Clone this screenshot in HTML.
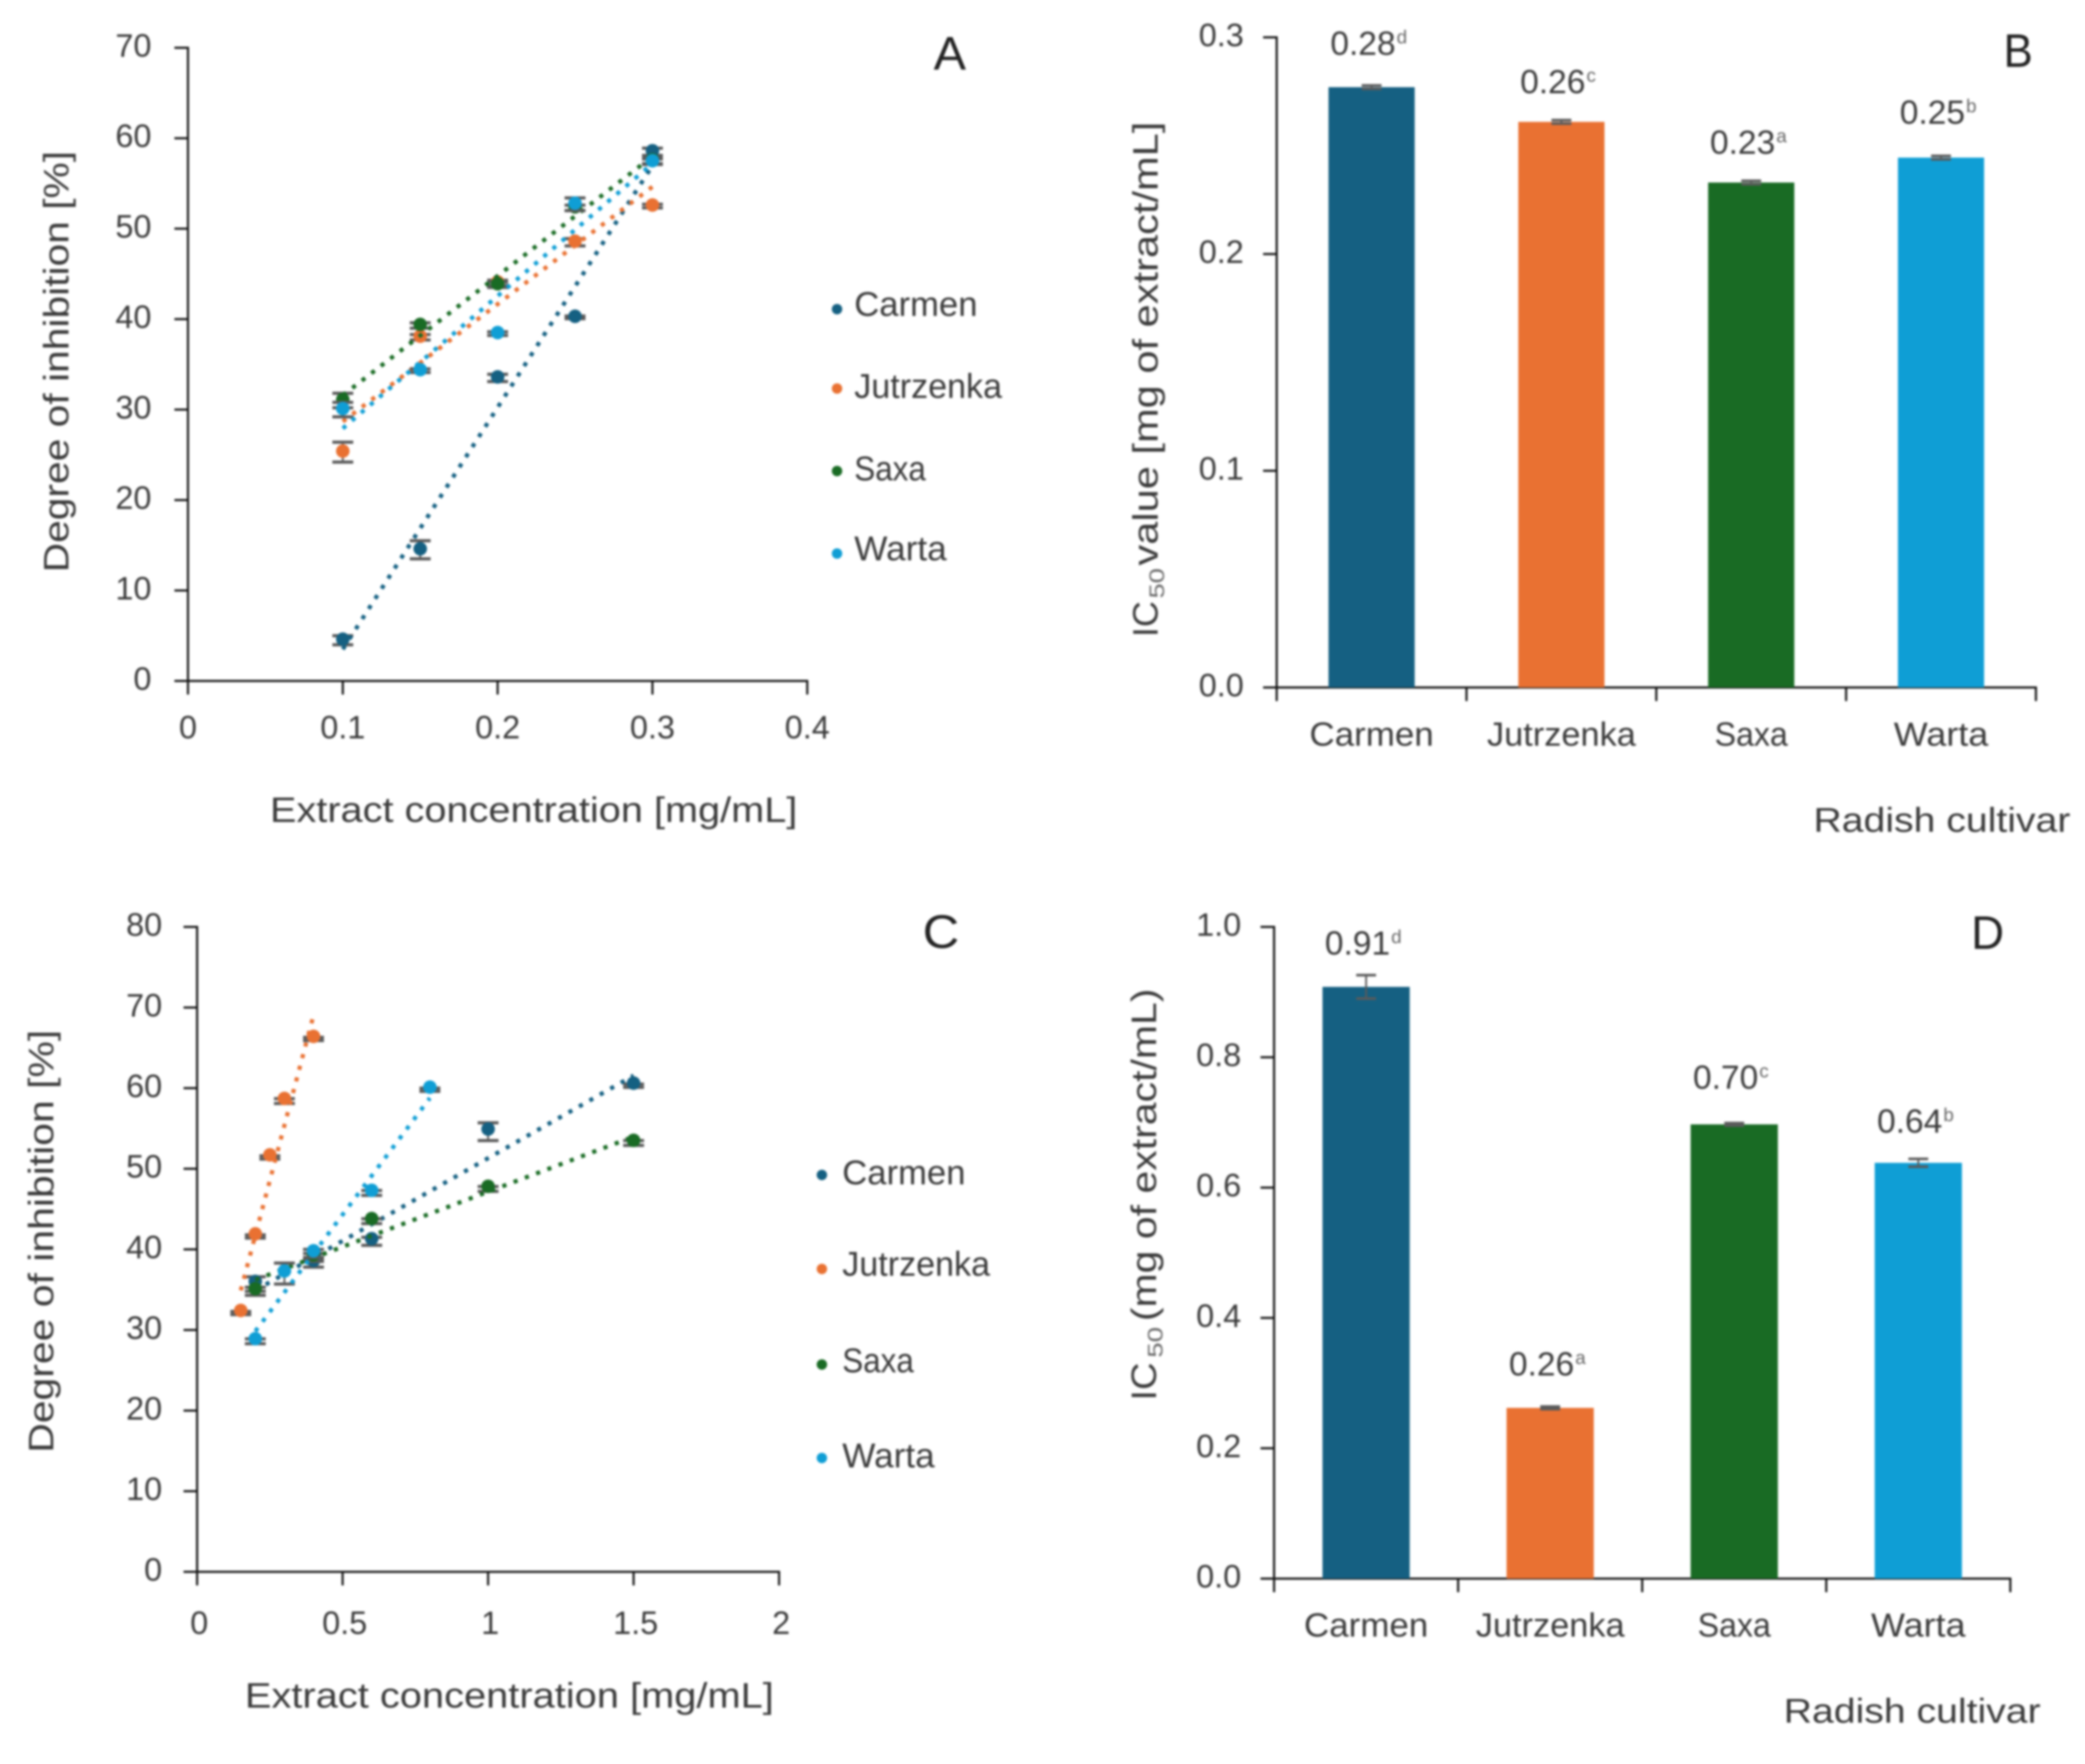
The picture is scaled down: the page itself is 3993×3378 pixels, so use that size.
<!DOCTYPE html>
<html lang="en">
<head>
<meta charset="utf-8">
<title>Radish cultivar inhibition and IC50 charts</title>
<style>
html,body{margin:0;padding:0;background:#fff;}
svg{display:block;filter:blur(2px);}
text{font-family:"Liberation Sans",sans-serif;fill:#3a3a3a;}
</style>
</head>
<body>
<svg id="chart" xmlns="http://www.w3.org/2000/svg" width="3993" height="3378" viewBox="0 0 3993 3378">
<rect width="3993" height="3378" fill="#ffffff"/>
</svg>
<script>
// ---------- shared ----------
const cultivars = ['Carmen', 'Jutrzenka', 'Saxa', 'Warta'];
const cultivarColors = ['#156082', '#E97132', '#196B24', '#0F9ED5'];

// ---------- panel A data ----------
const aXTicks = [0, 0.1, 0.2, 0.3, 0.4];
const aXTickLabels = ['0', '0.1', '0.2', '0.3', '0.4'];
const aYTicks = [0, 10, 20, 30, 40, 50, 60, 70];
const aConc = [0.1, 0.15, 0.2, 0.25, 0.3];
const aCarmen = [4.5, 14.5, 33.5, 40.2, 58.5];
const aCarmenErr = [0.5, 1.0, 0.4, 0.15, 0.4];
const aJutrzenka = [25.3, 38, 44, 48.5, 52.5];
const aJutrzenkaErr = [1.1, 0.3, 0.3, 0.4, 0.2];
const aSaxa = [31, 39.3, 43.8, 52.3, 57.5];
const aSaxaErr = [0.8, 0.3, 0.3, 0.3, 0.3];
const aWarta = [30, 34.3, 38.4, 52.7, 57.4];
const aWartaErr = [0.8, 0.2, 0.2, 0.7, 0.3];

// ---------- panel B data ----------
const bYTicks = [0, 0.1, 0.2, 0.3];
const bYTickLabels = ['0.0', '0.1', '0.2', '0.3'];
const bValues = [0.277, 0.261, 0.233, 0.2445];
const bErrors = [0.0008, 0.0008, 0.0008, 0.0008];
const bPrinted = ['0.28', '0.26', '0.23', '0.25'];
const bLetters = ['d', 'c', 'a', 'b'];

// ---------- panel C data ----------
const cXTicks = [0, 0.5, 1, 1.5, 2];
const cXTickLabels = ['0', '0.5', '1', '1.5', '2'];
const cYTicks = [0, 10, 20, 30, 40, 50, 60, 70, 80];
const cCarmenX = [0.2, 0.4, 0.6, 1, 1.5];
const cCarmen = [35.7, 38.3, 41, 54.6, 60.3];
const cCarmenErr = [0.9, 0.5, 0.5, 1.1, 0.2];
const cJutrzenkaX = [0.15, 0.2, 0.25, 0.3, 0.4];
const cJutrzenka = [32.1, 41.6, 51.4, 58.4, 66.1];
const cJutrzenkaErr = [0.2, 0.2, 0.2, 0.3, 0.2];
const cSaxaX = [0.2, 0.4, 0.6, 1, 1.5];
const cSaxa = [34.8, 39, 43.5, 47.5, 53.2];
const cSaxaErr = [0.5, 0.5, 0.3, 0.3, 0.3];
const cWartaX = [0.2, 0.3, 0.4, 0.6, 0.8];
const cWarta = [28.6, 37, 39.5, 47, 59.8];
const cWartaErr = [0.3, 1.3, 0.5, 0.3, 0.2];

// ---------- panel D data ----------
const dYTicks = [0, 0.2, 0.4, 0.6, 0.8, 1];
const dYTickLabels = ['0.0', '0.2', '0.4', '0.6', '0.8', '1.0'];
const dValues = [0.908, 0.262, 0.697, 0.638];
const dErrors = [0.018, 0.002, 0.002, 0.006];
const dPrinted = ['0.91', '0.26', '0.70', '0.64'];
const dLetters = ['d', 'a', 'c', 'b'];

const NS = 'http://www.w3.org/2000/svg';
const root = document.getElementById('chart');

function mk(tag, attrs, name, parent) {
  const el = document.createElementNS(NS, tag);
  for (const k in attrs) el.setAttribute(k, attrs[k]);
  
  
  (parent || root).appendChild(el);
  return el;
}
function group(name, parent) { return mk('g', {}, name, parent); }
function line(x1, y1, x2, y2, stroke, w, name, parent) {
  return mk('line', {x1: x1, y1: y1, x2: x2, y2: y2, stroke: stroke, 'stroke-width': w}, name, parent);
}
function label(str, x, y, size, anchor, name, parent, len, fill) {
  const a = {x: x, y: y, 'font-size': size, 'text-anchor': anchor || 'start'};
  if (len) { a.textLength = len; a.lengthAdjust = 'spacingAndGlyphs'; }
  if (fill) a.style = 'fill:' + fill;
  const el = mk('text', a, name, parent);
  el.textContent = str;
  return el;
}
function vlabel(str, x, y, size, name, parent, len, fill) {
  const el = label(str, 0, 0, size, 'start', name, parent, len, fill);
  el.setAttribute('transform', 'translate(' + x + ',' + y + ') rotate(-90)');
  return el;
}
function fitLine(xs, ys) {
  const n = xs.length;
  const mx = xs.reduce((s, v) => s + v, 0) / n;
  const my = ys.reduce((s, v) => s + v, 0) / n;
  let sxy = 0, sxx = 0;
  xs.forEach((v, i) => { sxy += (v - mx) * (ys[i] - my); sxx += (v - mx) * (v - mx); });
  const m = sxy / sxx;
  return v => my + m * (v - mx);
}

function axes(p, g, xScale, yScale, yTicks, yLabels, xTicks) {
  const ax = '#111111';
  line(p.left, p.top - 2, p.left, p.bottom + 2, ax, 4, 'y-axis-line', g);
  line(p.left - 2, p.bottom, p.right + 2, p.bottom, ax, 4, 'x-axis-line', g);
  yTicks.forEach((t, i) => {
    line(p.left - 26, yScale(t), p.left, yScale(t), ax, 4, 'y-tick', g);
    label(yLabels[i], p.left - p.yLabelGap, yScale(t) + 17, 62, 'end', 'y-tick-label', g);
  });
  xTicks.forEach(t => {
    line(xScale(t), p.bottom, xScale(t), p.bottom + 26, ax, 4, 'x-tick', g);
  });
}

function scatterPanel(p, series, xTicks, xLabels, yTicks) {
  const g = group('panel-' + p.id);
  const x = v => p.left + (v - p.xMin) / (p.xMax - p.xMin) * (p.right - p.left);
  const y = v => p.bottom - (v - p.yMin) / (p.yMax - p.yMin) * (p.bottom - p.top);
  axes(p, g, x, y, yTicks, yTicks.map(String), xTicks);
  xTicks.forEach((t, i) => {
    label(xLabels[i], x(t) + p.xLabelShift, p.bottom + p.xLabelDrop, 62, 'middle', 'x-tick-label', g);
  });
  series.forEach((s, si) => {
    const sg = group('series-' + cultivars[si].toLowerCase(), g);
    const col = cultivarColors[si];
    s.x.forEach((v, i) => {
      const cx = x(v);
      const hi = y(s.y[i] + s.e[i]);
      const lo = y(s.y[i] - s.e[i]);
      line(cx, hi, cx, lo, '#5a5a5a', 3.5, 'error-bar', sg);
      line(cx - 20, hi, cx + 20, hi, '#5a5a5a', 6, 'error-cap', sg);
      line(cx - 20, lo, cx + 20, lo, '#5a5a5a', 6, 'error-cap', sg);
    });
    s.x.forEach((v, i) => {
      mk('circle', {cx: x(v), cy: y(s.y[i]) - p.markerLift, r: 13, fill: col}, 'data-point', sg);
    });
    const f = fitLine(s.x, s.y);
    const x0 = s.x[0], x1 = s.x[s.x.length - 1];
    mk('line', {x1: x(x0), y1: y(f(x0)), x2: x(x1), y2: y(f(x1)), stroke: col, 'stroke-width': 8,
      'stroke-dasharray': '8 15'}, 'trendline', sg);
  });
  label(p.xTitle, p.xTitleX, p.xTitleY, 68, 'start', 'x-axis-title', g, p.xTitleLen);
  vlabel(p.yTitle, p.yTitleX, p.yTitleY, 68, 'y-axis-title', g, p.yTitleLen);
  label(p.id.toUpperCase(), p.letterX, p.letterY, 90, 'start', 'panel-letter', g, p.letterW, '#222222');
  const lg = group('legend', g);
  const widths = [236, 283, 137, 177];
  cultivars.forEach((c, i) => {
    mk('circle', {cx: p.legDotX, cy: p.legDotY[i], r: 10, fill: cultivarColors[i]}, 'legend-marker', lg);
    label(c, p.legTextX, p.legTextY[i], 66, 'start', 'legend-label', lg, widths[i]);
  });
}

function barPanel(p, values, errors, printed, letters, yTicks, yLabels) {
  const g = group('panel-' + p.id);
  const n = values.length;
  const band = (p.right - p.left) / n;
  const x = i => p.left + band * (i + 0.5);
  const y = v => p.bottom - v / p.yMax * (p.bottom - p.top);
  const tickPos = [0, 1, 2, 3, 4];
  axes(p, g, t => p.left + band * t, y, yTicks, yLabels, tickPos);
  const catWidths = [238, 285, 140, 181];
  values.forEach((v, i) => {
    mk('rect', {x: x(i) - p.barW / 2, y: y(v), width: p.barW, height: p.bottom - y(v),
      fill: cultivarColors[i]}, 'bar-' + cultivars[i].toLowerCase(), g);
  });
  values.forEach((v, i) => {
    const hi = y(v + errors[i]), lo = y(v - errors[i]);
    line(x(i), hi, x(i), lo, '#5a5a5a', 3.5, 'error-bar', g);
    line(x(i) - 19, hi, x(i) + 19, hi, '#5a5a5a', 5, 'error-cap', g);
    line(x(i) - 19, lo, x(i) + 19, lo, '#5a5a5a', 5, 'error-cap', g);
    const lift = p.labelLift[i];
    label(printed[i], x(i) - 79, y(v) - lift, 64, 'start', 'value-label', g, 125);
    label(letters[i], x(i) + 48, y(v) - lift - 22, 36, 'start', 'significance-letter', g, null, '#666666');
    label(cultivars[i], x(i), p.catY, 64, 'middle', 'category-label', g, catWidths[i]);
  });
  label('Radish cultivar', p.xTitleX, p.xTitleY, 66, 'start', 'x-axis-title', g, 492);
  const ty = p.yTitleParts;
  vlabel('IC', p.yTitleX, ty[0], 68, 'y-axis-title-ic', g, ty[0] - ty[1]);
  vlabel('50', p.yTitleX + 12, ty[2], 40, 'y-axis-title-subscript', g, ty[2] - ty[3], '#666666');
  vlabel(p.yTitleRest, p.yTitleX, ty[4], 68, 'y-axis-title', g, ty[4] - ty[5]);
  label(p.id.toUpperCase(), p.letterX, p.letterY, 90, 'start', 'panel-letter', g, p.letterW, '#222222');
}

const mkSeries = (xs, ys, es) => ({x: xs, y: ys, e: es});

scatterPanel({id: 'a', left: 360, right: 1546, top: 91.5, bottom: 1304,
  xMin: 0, xMax: 0.4, yMin: 0, yMax: 70, yLabelGap: 70, xLabelDrop: 110, xLabelShift: 0, markerLift: 2,
  xTitle: 'Extract concentration [mg/mL]', xTitleX: 517, xTitleY: 1574, xTitleLen: 1010,
  yTitle: 'Degree of inhibition [%]', yTitleX: 131, yTitleY: 1096, yTitleLen: 807,
  letterX: 1788, letterY: 133, letterW: 62,
  legDotX: 1603, legDotY: [592, 744, 902, 1060], legTextX: 1636, legTextY: [605, 762, 920, 1073]},
  [mkSeries(aConc, aCarmen, aCarmenErr), mkSeries(aConc, aJutrzenka, aJutrzenkaErr),
   mkSeries(aConc, aSaxa, aSaxaErr), mkSeries(aConc, aWarta, aWartaErr)],
  aXTicks, aXTickLabels, aYTicks);

barPanel({id: 'b', left: 2445, right: 3899, top: 71.5, bottom: 1316.5, yMax: 0.3, barW: 165,
  yLabelGap: 63, catY: 1428, xTitleX: 3473, xTitleY: 1593, labelLift: [62, 55, 55, 65],
  yTitleX: 2217, yTitleParts: [1220, 1151, 1146, 1088, 1083, 233], yTitleRest: 'value [mg of extract/mL]',
  letterX: 3837, letterY: 128, letterW: 56},
  bValues, bErrors, bPrinted, bLetters, bYTicks, bYTickLabels);

scatterPanel({id: 'c', left: 377.5, right: 1492, top: 1775, bottom: 3010,
  xMin: 0, xMax: 2, yMin: 0, yMax: 80, yLabelGap: 67, xLabelDrop: 119, xLabelShift: 4, markerLift: 5,
  xTitle: 'Extract concentration [mg/mL]', xTitleX: 469, xTitleY: 3270, xTitleLen: 1013,
  yTitle: 'Degree of inhibition [%]', yTitleX: 102, yTitleY: 2782, yTitleLen: 810,
  letterX: 1767, letterY: 1815, letterW: 70,
  legDotX: 1574, legDotY: [2250, 2430, 2613, 2792], legTextX: 1613, legTextY: [2268, 2443, 2628, 2810]},
  [mkSeries(cCarmenX, cCarmen, cCarmenErr), mkSeries(cJutrzenkaX, cJutrzenka, cJutrzenkaErr),
   mkSeries(cSaxaX, cSaxa, cSaxaErr), mkSeries(cWartaX, cWarta, cWartaErr)],
  cXTicks, cXTickLabels, cYTicks);

barPanel({id: 'd', left: 2440, right: 3850, top: 1775, bottom: 3023, yMax: 1, barW: 167,
  yLabelGap: 63, catY: 3134, xTitleX: 3416, xTitleY: 3299, labelLift: [62, 62, 68, 58],
  yTitleX: 2214, yTitleParts: [2682, 2609, 2600, 2541, 2530, 1893], yTitleRest: '(mg of extract/mL)',
  letterX: 3775, letterY: 1817, letterW: 63},
  dValues, dErrors, dPrinted, dLetters, dYTicks, dYTickLabels);
</script>
</body>
</html>
